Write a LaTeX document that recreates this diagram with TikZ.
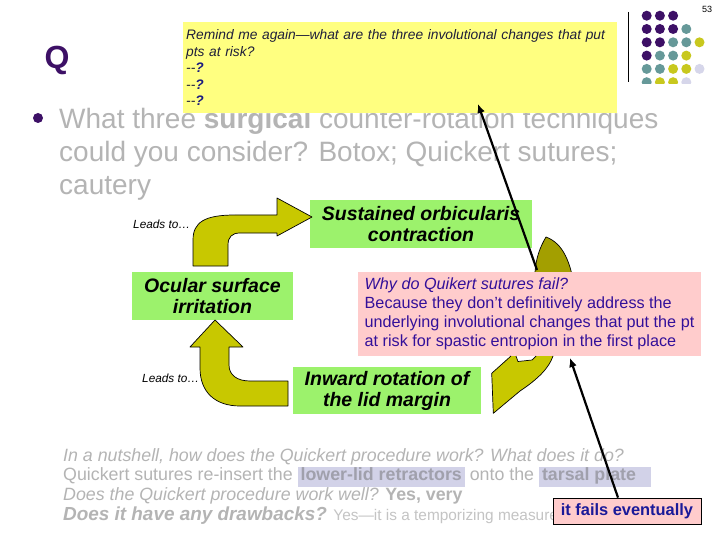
\documentclass[tikz,border=0pt]{standalone}
\usepackage{fontspec}
\setmainfont{Liberation Sans}
\usetikzlibrary{arrows.meta}
\definecolor{qpurple}{HTML}{3D1066}
\definecolor{bodygray}{HTML}{B4B4B4}
\definecolor{lightgraytext}{HTML}{C4C4C4}
\definecolor{noteyellow}{HTML}{FFFF80}
\definecolor{notetext}{HTML}{1F1F3A}
\definecolor{qmark}{HTML}{1A1A80}
\definecolor{boxgreen}{HTML}{9CF26C}
\definecolor{arrowolive}{HTML}{C8C800}
\definecolor{darkolive}{HTML}{A39F00}
\definecolor{pinkbox}{HTML}{FFCCCC}
\definecolor{whytext}{HTML}{33109A}
\definecolor{failblue}{HTML}{1A1A99}
\definecolor{hlbg}{HTML}{D2D2E8}
\definecolor{hltext}{HTML}{A0A0AC}
\definecolor{dotP}{HTML}{3D1066}
\definecolor{dotT}{HTML}{669999}
\definecolor{dotY}{HTML}{C8C81E}
\definecolor{dotL}{HTML}{D6D6EA}
\newcommand{\hilite}[1]{{\setlength{\fboxsep}{0pt}\colorbox{hlbg}{\strut\,\bfseries\color{hltext}#1\,}}}

\begin{document}
\begin{tikzpicture}[x=1pt,y=-1pt,>=Latex,
  greenbox/.style={fill=boxgreen,inner sep=0pt,align=center,font=\fontsize{19.5}{21}\selectfont\bfseries\itshape},
  bentarrow/.style={fill=arrowolive,draw=black,line width=0.7pt,line join=round},
  callout/.style={->,line width=2.2pt,>={Latex[length=9pt,width=8pt]}},
  leads/.style={inner sep=0pt,font=\fontsize{11.8}{13}\selectfont\itshape}]
  \useasboundingbox (0,0) rectangle (720,540);
  \fill[white] (0,0) rectangle (720,540);

  \node[font=\fontsize{9}{10}\selectfont] (page) at (707,9) {53};
  \node[text=qpurple,font=\fontsize{32}{36}\selectfont\bfseries] (q) at (57,60) {Q};
  \draw[line width=1pt] (628,12) -- (628,82);
  \begin{scope}
    \clip (640,0) rectangle (715,83.3);
    \foreach \row/\cols in {0/{dotP,dotP,dotP},1/{dotP,dotP,dotP,dotT},2/{dotP,dotP,dotT,dotT,dotY},
        3/{dotP,dotT,dotT,dotY},4/{dotT,dotT,dotY,dotY,dotL},5/{dotT,dotY,dotY,dotL}}
      \foreach \c [count=\k from 0] in \cols
        \fill[\c] (646.7+13.2*\k,15.7+13.3*\row) circle (5pt);
  \end{scope}

  \fill[qpurple] (38,118) circle (5pt);
  \node[anchor=north west,inner sep=0pt,align=left,text=bodygray,font=\fontsize{28}{33}\selectfont] (question) at (59,108)
    {What three \textbf{surgical} counter-rotation techniques\\could you consider? Botox; Quickert sutures;\\cautery};

  \node[fill=noteyellow,anchor=north west,minimum width=434,minimum height=91,text width=428,inner sep=3pt,
    align=left,font=\fontsize{13.8}{16.6}\selectfont\itshape,text=notetext] (note) at (183,22)
    {Remind me again—what are the three involutional changes that put\\pts at risk?\\
     {-}{-}\textbf{\color{qmark}?}\\{-}{-}\textbf{\color{qmark}?}\\{-}{-}\textbf{\color{qmark}?}};

  \node[greenbox,minimum width=222,minimum height=48] (sustained) at (421,224) {Sustained orbicularis\\contraction};
  \node[greenbox,minimum width=161,minimum height=48] (ocular) at (212.5,296) {Ocular surface\\irritation};
  \node[greenbox,minimum width=188,minimum height=47] (inward) at (387,390.5) {Inward rotation of\\the lid margin};
  \node[leads,anchor=west] (leads1) at (133,224) {Leads to…};
  \node[leads,anchor=west] (leads2) at (142,378) {Leads to…};

  \draw[bentarrow] (193,266) -- (193,240) .. controls (193,222) and (205,215) .. (235,215) -- (277,215)
    -- (277,198) -- (312,217) -- (277,236) -- (277,233) -- (240,233) .. controls (232,233) and (228,237) .. (228,245)
    -- (228,266) -- cycle;
  \draw[bentarrow] (200,347) -- (200,368) .. controls (200,392) and (215,406) .. (240,406) -- (288,406) -- (288,381)
    -- (250,381) .. controls (237,381) and (229,375) .. (229,365) -- (229,347) -- (243,347) -- (215,320)
    -- (190,347) -- cycle;
  \draw[bentarrow,fill=darkolive] (546,237) .. controls (562,243) and (572,260) .. (576,300) -- (556,320)
    -- (535,272) .. controls (536,258) and (540,247) .. (546,237) -- cycle;

  \node[fill=pinkbox,minimum width=343,minimum height=84,inner xsep=6pt,inner ysep=0pt,align=left,
    font=\fontsize{16.2}{19}\selectfont,text=whytext] (why) at (529.5,314)
    {\textit{Why do Quikert sutures fail?}\\Because they don't definitively address the\\
     underlying involutional changes that put the pt\\at risk for spastic entropion in the first place};

  \draw[bentarrow] (511,356) -- (491.7,373.3) -- (493.3,413.3) -- (520,391) .. controls (538,379) and (549,368) .. (553,356);
  \draw[fill=white,line width=0.7pt] (516,356) -- (518,361.5) -- (532,360) -- (536,356);

  \node[anchor=north west,inner sep=0pt,align=left,text=bodygray,font=\fontsize{17.8}{19.7}\selectfont] (nutshell) at (63,448)
    {\textit{In a nutshell, how does the Quickert procedure work? What does it do?}\\
     Quickert sutures re-insert the \hilite{lower-lid retractors} onto the \hilite{tarsal plate\hspace{12pt}}\\
     \textit{Does the Quickert procedure work well?} \textbf{Yes, very}\\
     {\fontsize{18.9}{19.7}\selectfont\bfseries\itshape Does it have any drawbacks?}
     {\fontsize{15.4}{19.7}\selectfont\color{lightgraytext}Yes—it is a temporizing measure;}};

  \node[draw=black,fill=pinkbox,line width=0.8pt,minimum width=148,minimum height=26,inner sep=0pt,
    font=\fontsize{16.4}{18}\selectfont\bfseries,text=failblue] (fails) at (627,511) {it fails eventually};

  \coordinate (olivetop) at (537,270);
  \coordinate (notetip) at (478,104);
  \coordinate (whytip) at (570,358);
  \draw[callout] (olivetop) -- (notetip);
  \draw[callout] ([xshift=-9pt]fails.north) -- (whytip);
\end{tikzpicture}
\end{document}
